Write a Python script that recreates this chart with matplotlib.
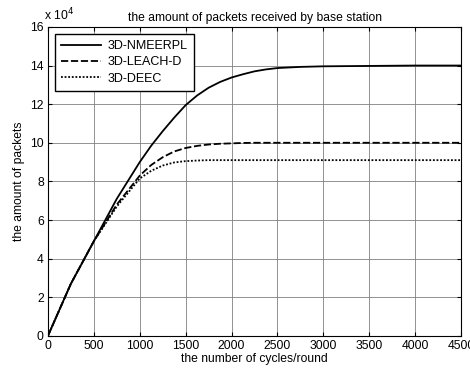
import numpy as np
import matplotlib.pyplot as plt

plt.rcParams['font.family'] = ['Liberation Sans', 'DejaVu Sans']

# rounds and packets received (in units of 10^4)
rounds = [0, 250, 500, 750, 1000, 1125, 1250, 1375, 1500, 1625, 1750, 1875, 2000,
          2125, 2250, 2375, 2500, 2750, 3000, 3500, 4000, 4500]
nmeerpl = [0, 2.7, 4.9, 7.1, 9.0, 9.85, 10.6, 11.3, 11.95, 12.45, 12.85, 13.15, 13.38,
           13.55, 13.7, 13.8, 13.87, 13.93, 13.96, 13.98, 14.0, 14.0]
leach_d = [0, 2.7, 4.9, 6.8, 8.3, 8.85, 9.25, 9.55, 9.73, 9.84, 9.91, 9.95, 9.97,
           9.99, 10.0, 10.0, 10.0, 10.0, 10.0, 10.0, 10.0, 10.0]
deec = [0, 2.7, 4.9, 6.7, 8.15, 8.55, 8.82, 8.98, 9.05, 9.08, 9.1, 9.1, 9.1,
        9.1, 9.1, 9.1, 9.1, 9.1, 9.1, 9.1, 9.1, 9.1]

fig = plt.figure(figsize=(4.7, 3.74), dpi=100)
ax = fig.add_axes([0.102, 0.102, 0.879, 0.826])

ax.plot(rounds, nmeerpl, 'k-', lw=1.3, label='3D-NMEERPL')
ax.plot(rounds, leach_d, 'k--', lw=1.3, dashes=(4, 1.5), label='3D-LEACH-D')
ax.plot(rounds, deec, 'k:', lw=1.3, dashes=(1, 1), label='3D-DEEC')

ax.set_xlim(0, 4500)
ax.set_ylim(0, 16)
ax.set_xticks(np.arange(0, 4501, 500))
ax.set_yticks(np.arange(0, 17, 2))
ax.tick_params(direction='in', top=True, right=True, labelsize=8.7, length=3, pad=3)
ax.grid(True, color='#808080', lw=0.6)
ax.set_axisbelow(True)

ax.set_title('the amount of packets received by base station', fontsize=8.7, pad=4)
ax.set_xlabel('the number of cycles/round', fontsize=8.7, labelpad=1)
ax.set_ylabel('the amount of packets', fontsize=8.7, labelpad=4)
ax.text(-0.01, 1.012, r'x 10$^4$', transform=ax.transAxes, fontsize=8.7,
        ha='left', va='bottom')

leg = ax.legend(loc='upper left', fontsize=9, fancybox=False, framealpha=1,
                edgecolor='k', handlelength=3.2, borderaxespad=0.55,
                labelspacing=0.35, handletextpad=0.5, borderpad=0.5)
leg.get_frame().set_linewidth(1.0)

fig.savefig('out.png', dpi=100)
